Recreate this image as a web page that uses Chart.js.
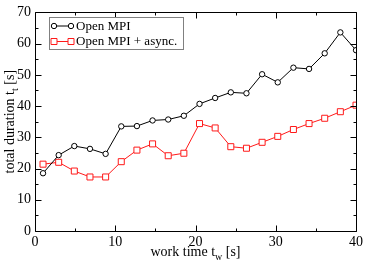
<!DOCTYPE html>
<html>
<head>
<meta charset="utf-8">
<script src="https://cdn.jsdelivr.net/npm/chart.js@4/dist/chart.umd.min.js"></script>
<style>
html,body{margin:0;padding:0;background:#fff;}
#wrap{width:366px;height:263px;position:relative;}
</style>
</head>
<body>
<div id="wrap"><canvas id="c" width="366" height="263"></canvas></div>
<script>
const workTime = [1, 2.95, 4.9, 6.85, 8.8, 10.75, 12.7, 14.65, 16.6, 18.55, 20.5, 22.45, 24.4, 26.35, 28.3, 30.25, 32.2, 34.15, 36.1, 38.05, 40];
const openMPI = [18.5, 24.3, 27.2, 26.3, 24.7, 33.5, 33.6, 35.4, 35.7, 36.9, 40.7, 42.6, 44.4, 44.1, 50.2, 47.6, 52.3, 51.9, 56.9, 63.6, 57.9];
const openMPIAsync = [21.4, 22.0, 19.2, 17.3, 17.3, 22.2, 25.9, 27.9, 24.1, 24.9, 34.4, 33.0, 27.0, 26.5, 28.4, 30.3, 32.5, 34.4, 36.1, 38.2, 40.3];
const seriesNames = ["Open MPI", "Open MPI + async."];
const xTicks = [0, 10, 20, 30, 40];
const yTicks = [0, 10, 20, 30, 40, 50, 60, 70];
const xTitle = ["work time t", "w", " [s]"];
const yTitle = ["total duration t", "t", " [s]"];

const FONT = "Liberation Serif";
const RED = "#ff1a1a";

function pts(xs, ys){ return xs.map((x,i)=>({x:x, y:ys[i]})); }

function drawSubText(ctx, parts, size){
  const main = size + "px '" + FONT + "'";
  const sub = Math.round(size*0.72) + "px '" + FONT + "'";
  ctx.font = main; const w0 = ctx.measureText(parts[0]).width;
  ctx.font = sub; const w1 = ctx.measureText(parts[1]).width;
  ctx.font = main; const w2 = ctx.measureText(parts[2]).width;
  const total = w0 + w1 + w2;
  let x = -total/2;
  ctx.textBaseline = "alphabetic"; ctx.textAlign = "left";
  ctx.font = main; ctx.fillText(parts[0], x, 0); x += w0;
  ctx.font = sub; ctx.fillText(parts[1], x, size*0.3); x += w1;
  ctx.font = main; ctx.fillText(parts[2], x, 0);
}

const framePlugin = {
  id: "frame",
  afterDraw(chart){
    const ctx = chart.ctx, a = chart.chartArea;
    const xs = chart.scales.x, ys = chart.scales.y;
    ctx.save();
    ctx.strokeStyle = "#000"; ctx.lineWidth = 1;
    ctx.beginPath();
    const L = Math.round(a.left)+0.5, R = Math.round(a.right)+0.5, T = Math.round(a.top)+0.5, B = Math.round(a.bottom)+0.5;
    ctx.rect(L, T, R-L, B-T);
    for (let v = 0; v <= 40; v += 5){
      const p = Math.round(xs.getPixelForValue(v))+0.5;
      const len = (v % 10 === 0) ? 6 : 3;
      ctx.moveTo(p, B); ctx.lineTo(p, B-len);
      ctx.moveTo(p, T); ctx.lineTo(p, T+len);
    }
    for (let v = 0; v <= 70; v += 5){
      const p = Math.round(ys.getPixelForValue(v))+0.5;
      const len = (v % 10 === 0) ? 6 : 3;
      ctx.moveTo(L, p); ctx.lineTo(L+len, p);
      ctx.moveTo(R, p); ctx.lineTo(R-len, p);
    }
    ctx.stroke();

    ctx.fillStyle = "#000";
    ctx.save();
    ctx.translate((a.left+a.right)/2, 256);
    drawSubText(ctx, xTitle, 14);
    ctx.restore();
    ctx.save();
    ctx.translate(14, (a.top+a.bottom)/2);
    ctx.rotate(-Math.PI/2);
    drawSubText(ctx, yTitle, 14);
    ctx.restore();

    const bx = 49.5, by = 17.5, bw = 134, bh = 32;
    ctx.fillStyle = "#fff";
    ctx.fillRect(bx, by, bw, bh);
    ctx.strokeStyle = "#808080";
    ctx.strokeRect(bx, by, bw, bh);
    const rows = [
      {y: 26, color: "#000", style: "circle"},
      {y: 41.5, color: RED, style: "rect"}
    ];
    rows.forEach((r, i) => {
      ctx.strokeStyle = r.color; ctx.lineWidth = 1;
      ctx.beginPath(); ctx.moveTo(54, r.y); ctx.lineTo(71, r.y); ctx.stroke();
      [54, 71].forEach(px => {
        ctx.beginPath();
        if (r.style === "circle") ctx.arc(px, r.y, 2.7, 0, Math.PI*2);
        else ctx.rect(px-3, r.y-3, 6, 6);
        ctx.fillStyle = "#fff"; ctx.fill(); ctx.stroke();
      });
      ctx.fillStyle = "#000";
      ctx.font = "13px '" + FONT + "'";
      ctx.textAlign = "left"; ctx.textBaseline = "middle";
      ctx.fillText(seriesNames[i], 76, r.y + 0.5);
    });
    ctx.restore();
  }
};

new Chart(document.getElementById("c"), {
  type: "line",
  data: {
    datasets: [
      {label: seriesNames[0], data: pts(workTime, openMPI), borderColor: "#000", backgroundColor: "#fff",
       borderWidth: 1, pointStyle: "circle", pointRadius: 2.7, pointBorderWidth: 1,
       pointBackgroundColor: "#fff", pointBorderColor: "#000", tension: 0},
      {label: seriesNames[1], data: pts(workTime, openMPIAsync), borderColor: RED, backgroundColor: "#fff",
       borderWidth: 1, pointStyle: "rect", pointRadius: 4.25, pointBorderWidth: 1,
       pointBackgroundColor: "#fff", pointBorderColor: RED, tension: 0}
    ]
  },
  options: {
    responsive: false, animation: false, devicePixelRatio: 1,
    layout: {padding: {top: 5, right: 8, left: 0, bottom: 0}},
    plugins: {legend: {display: false}, tooltip: {enabled: false}},
    scales: {
      x: {type: "linear", min: 0, max: 40,
          afterFit(s){ s.height = 32; },
          afterBuildTicks(s){ s.ticks = xTicks.map(v=>({value:v})); },
          grid: {display: false, drawTicks: false}, border: {display: false},
          ticks: {color: "#000", font: {family: FONT, size: 14}, padding: 3, maxRotation: 0}},
      y: {type: "linear", min: 0, max: 70,
          afterFit(s){ s.width = 35; },
          afterBuildTicks(s){ s.ticks = yTicks.map(v=>({value:v})); },
          grid: {display: false, drawTicks: false}, border: {display: false},
          ticks: {color: "#000", font: {family: FONT, size: 14}, padding: 4}}
    }
  },
  plugins: [framePlugin]
});
</script>
</body>
</html>
